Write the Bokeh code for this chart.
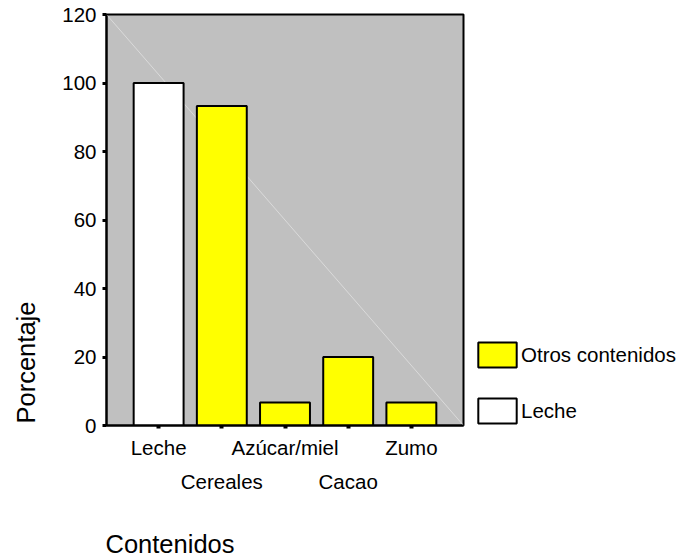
from bokeh.plotting import figure
from bokeh.models import (Range1d, FixedTicker, LinearAxis, Legend, Title,
                          LegendItem, ColumnDataSource)
from bokeh.embed import file_html
from bokeh.resources import INLINE

# ---- data ----
categories = ["Leche", "Cereales", "Azúcar/miel", "Cacao", "Zumo"]
porcentaje = [100, 93.3, 6.7, 20, 6.7]
grupo = ["Leche", "Otros contenidos", "Otros contenidos", "Otros contenidos", "Otros contenidos"]
y_ticks = [0, 20, 40, 60, 80, 100, 120]
legend_order = ["Otros contenidos", "Leche"]
colores = {"Otros contenidos": "#ffff00", "Leche": "#ffffff"}
y_label = "Porcentaje"
x_label = "Contenidos"

FONT = "Liberation Sans"
TICK_SIZE = "20.5px"
TITLE_SIZE = "25.5px"
xs = list(range(len(categories)))
pad = 0.825
x0, x1 = -pad, len(categories) - 1 + pad
y0, y1 = 0, 120

p = figure(frame_width=357, frame_height=411, output_backend="svg", toolbar_location=None,
           x_range=Range1d(x0, x1), y_range=Range1d(y0, y1),
           min_border_left=106, min_border_right=214, min_border_top=14,
           min_border_bottom=135)
p.background_fill_color = "#c0c0c0"
p.border_fill_color = "white"
p.outline_line_color = "black"
p.outline_line_width = 2
p.grid.visible = False

# faint diagonal artefact of the original
p.line(x=[x0, x1], y=[y1, y0], line_color="#dadada", line_width=1)

renderers = {}
for g in legend_order:
    idx = [i for i, gg in enumerate(grupo) if gg == g]
    src = ColumnDataSource(dict(x=[xs[i] for i in idx], top=[porcentaje[i] for i in idx]))
    renderers[g] = p.vbar(x="x", top="top", bottom=0, width=0.79, source=src,
                          fill_color=colores[g], line_color="black", line_width=2)

# x axis, row 1
xa = p.xaxis[0]
xa.ticker = FixedTicker(ticks=xs)
xa.major_label_overrides = {i: (categories[i] if i % 2 == 0 else "") for i in xs}
xa.major_tick_in = 0
xa.major_tick_out = 3
xa.major_tick_line_width = 4
xa.minor_tick_line_color = None
xa.axis_line_width = 2
xa.major_label_standoff = 7
xa.major_label_text_font = FONT
xa.major_label_text_font_size = TICK_SIZE
xa.major_label_text_color = "black"

# x axis, row 2 (staggered labels)
xa2 = LinearAxis(ticker=FixedTicker(ticks=[i for i in xs if i % 2 == 1]),
                 major_label_overrides={i: categories[i] for i in xs if i % 2 == 1},
                 axis_line_color=None, major_tick_line_color=None,
                 minor_tick_line_color=None, major_tick_out=0, major_tick_in=0,
                 major_label_standoff=8, major_label_text_font=FONT,
                 major_label_text_font_size=TICK_SIZE, major_label_text_color="black")
p.add_layout(xa2, "below")

ya = p.yaxis[0]
ya.ticker = FixedTicker(ticks=y_ticks)
ya.major_tick_in = 0
ya.major_tick_out = 4
ya.major_tick_line_width = 3
ya.minor_tick_line_color = None
ya.axis_line_width = 2
ya.major_label_standoff = 6
ya.major_label_text_font = FONT
ya.major_label_text_font_size = TICK_SIZE
ya.major_label_text_color = "black"

# axis titles, positioned like the original (y title low, x title at left)
p.add_layout(Title(text=" ", text_font_size="2px", standoff=16), "left")
p.add_layout(Title(text=y_label, align="left", offset=2, standoff=0,
                   text_font=FONT, text_font_size=TITLE_SIZE,
                   text_font_style="normal", text_color="black"), "left")
p.add_layout(Title(text=" ", text_font_size="2px", standoff=27), "below")
p.add_layout(Title(text=x_label, align="left", offset=-1, standoff=2,
                   text_font=FONT, text_font_size=TITLE_SIZE,
                   text_font_style="normal", text_color="black"), "below")

legend = Legend(items=[LegendItem(label=g, renderers=[renderers[g]]) for g in legend_order],
                location=(10, -1), orientation="vertical", glyph_width=48, glyph_height=31,
                label_standoff=-4, spacing=25, padding=0, margin=0,
                border_line_color=None, background_fill_alpha=0,
                label_text_font=FONT, label_text_font_size=TICK_SIZE,
                label_text_color="black")
p.add_layout(legend, "right")

open("out.html", "w").write(file_html(p, INLINE))
